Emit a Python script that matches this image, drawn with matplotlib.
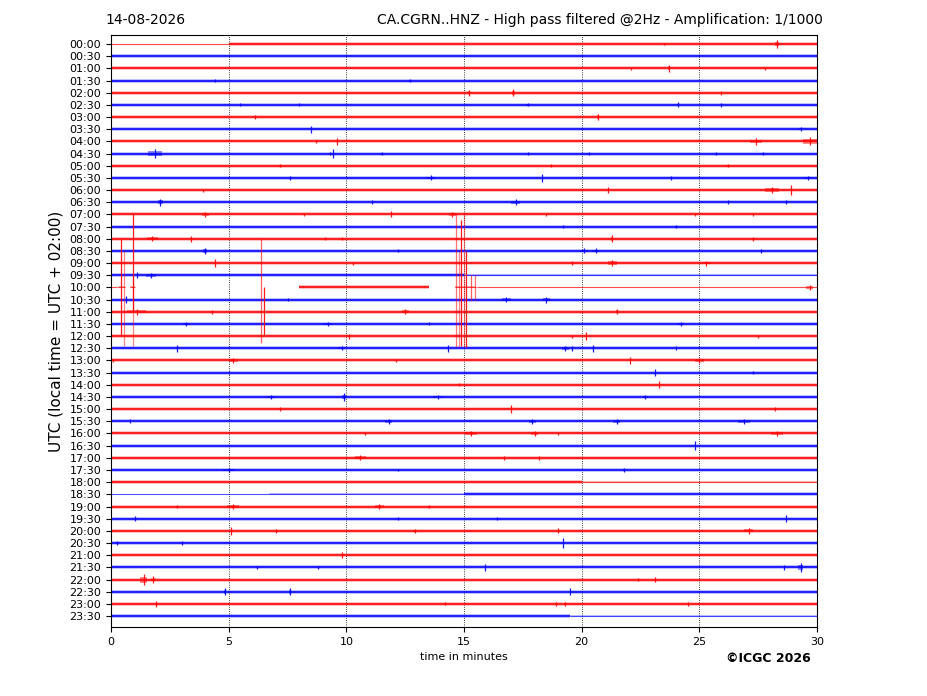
import numpy as np
import matplotlib
matplotlib.use("Agg")
import matplotlib.pyplot as plt

# Helicorder CA.CGRN..HNZ, one trace every 30 minutes
row_labels = [f"{h:02d}:{m:02d}" for h in range(24) for m in (0, 30)]
trace_colors = ["#ff0000", "#0000ff"]   # alternating red / blue traces

# noticeable arrivals: (trace label, minute, half amplitude in trace units, duration in minutes)
events = [
    ("00:00", 23.5, 0.12, 0.0), ("00:00", 28.3, 0.35, 0.2),
    ("01:00", 22.1, 0.12, 0.0), ("01:00", 23.7, 0.3, 0.1), ("01:00", 27.8, 0.12, 0.1),
    ("01:30", 4.4, 0.12, 0.0), ("01:30", 12.7, 0.12, 0.1),
    ("02:00", 15.2, 0.25, 0.1), ("02:00", 17.1, 0.3, 0.1), ("02:00", 25.9, 0.15, 0.0),
    ("02:30", 5.5, 0.12, 0.0), ("02:30", 8.0, 0.12, 0.0), ("02:30", 17.7, 0.12, 0.1),
    ("02:30", 24.1, 0.2, 0.1), ("02:30", 25.9, 0.15, 0.0),
    ("03:00", 6.1, 0.15, 0.0), ("03:00", 20.7, 0.25, 0.1),
    ("03:30", 8.5, 0.3, 0.0), ("03:30", 29.3, 0.15, 0.1),
    ("04:00", 8.7, 0.15, 0.0), ("04:00", 9.6, 0.3, 0.0), ("04:00", 27.4, 0.28, 0.5),
    ("04:00", 29.7, 0.32, 0.6),
    ("04:30", 1.87, 0.35, 0.6), ("04:30", 9.3, 0.15, 0.0), ("04:30", 9.45, 0.35, 0.0),
    ("04:30", 11.5, 0.15, 0.1), ("04:30", 17.7, 0.12, 0.0), ("04:30", 20.3, 0.12, 0.0),
    ("04:30", 25.7, 0.15, 0.1), ("04:30", 27.7, 0.15, 0.1),
    ("05:00", 7.2, 0.12, 0.1), ("05:00", 18.7, 0.12, 0.0), ("05:00", 26.2, 0.12, 0.1),
    ("05:30", 7.6, 0.15, 0.0), ("05:30", 13.6, 0.2, 0.4), ("05:30", 18.3, 0.3, 0.0),
    ("05:30", 23.8, 0.15, 0.0), ("05:30", 29.6, 0.18, 0.3),
    ("06:00", 3.9, 0.12, 0.0), ("06:00", 21.1, 0.25, 0.0), ("06:00", 28.1, 0.25, 0.6),
    ("06:00", 28.9, 0.4, 0.0),
    ("06:30", 2.1, 0.3, 0.2), ("06:30", 11.1, 0.15, 0.0), ("06:30", 17.2, 0.25, 0.4),
    ("06:30", 26.2, 0.15, 0.0), ("06:30", 28.7, 0.15, 0.0),
    ("07:00", 4.0, 0.18, 0.3), ("07:00", 8.2, 0.12, 0.0), ("07:00", 11.9, 0.25, 0.0),
    ("07:00", 14.5, 0.2, 0.3), ("07:00", 18.5, 0.12, 0.0), ("07:00", 24.8, 0.12, 0.0),
    ("07:00", 27.3, 0.15, 0.0),
    ("07:30", 19.2, 0.12, 0.0), ("07:30", 24.0, 0.15, 0.1),
    ("08:00", 1.76, 0.2, 0.5), ("08:00", 3.4, 0.25, 0.0), ("08:00", 9.1, 0.12, 0.0),
    ("08:00", 9.8, 0.12, 0.0), ("08:00", 21.3, 0.3, 0.1), ("08:00", 27.3, 0.15, 0.0),
    ("08:30", 4.0, 0.25, 0.2), ("08:30", 12.2, 0.12, 0.0), ("08:30", 20.1, 0.2, 0.3),
    ("08:30", 20.6, 0.2, 0.3), ("08:30", 27.6, 0.15, 0.0),
    ("09:00", 4.4, 0.3, 0.0), ("09:00", 10.3, 0.12, 0.0), ("09:00", 19.6, 0.15, 0.0),
    ("09:00", 21.3, 0.25, 0.4), ("09:00", 25.3, 0.2, 0.4),
    ("09:30", 1.1, 0.25, 0.0), ("09:30", 1.7, 0.2, 0.4),
    ("10:00", 29.7, 0.2, 0.3),
    ("10:30", 0.65, 0.3, 0.0), ("10:30", 7.5, 0.12, 0.0), ("10:30", 16.8, 0.2, 0.4),
    ("10:30", 18.5, 0.25, 0.3),
    ("11:00", 1.1, 0.25, 0.8), ("11:00", 4.3, 0.15, 0.0), ("11:00", 12.5, 0.2, 0.3),
    ("11:00", 21.5, 0.2, 0.1),
    ("11:30", 3.2, 0.2, 0.3), ("11:30", 9.2, 0.2, 0.4), ("11:30", 13.5, 0.12, 0.0),
    ("11:30", 24.2, 0.2, 0.3),
    ("12:00", 10.1, 0.2, 0.1), ("12:00", 19.6, 0.12, 0.0), ("12:00", 20.2, 0.3, 0.0),
    ("12:00", 27.5, 0.12, 0.0),
    ("12:30", 2.8, 0.3, 0.0), ("12:30", 9.8, 0.18, 0.3), ("12:30", 14.3, 0.3, 0.0),
    ("12:30", 19.3, 0.2, 0.3), ("12:30", 19.6, 0.2, 0.0), ("12:30", 20.5, 0.3, 0.0),
    ("12:30", 24.0, 0.15, 0.0),
    ("13:00", 0.1, 0.15, 0.0), ("13:00", 5.2, 0.2, 0.4), ("13:00", 12.1, 0.15, 0.0),
    ("13:00", 22.05, 0.3, 0.0), ("13:00", 25.0, 0.2, 0.4),
    ("13:30", 5.0, 0.15, 0.0), ("13:30", 23.1, 0.3, 0.0), ("13:30", 27.3, 0.15, 0.0),
    ("14:00", 14.8, 0.12, 0.0), ("14:00", 23.3, 0.3, 0.0),
    ("14:30", 6.8, 0.2, 0.3), ("14:30", 9.9, 0.3, 0.2), ("14:30", 13.9, 0.18, 0.4),
    ("14:30", 22.7, 0.2, 0.2),
    ("15:00", 7.2, 0.15, 0.0), ("15:00", 17.0, 0.3, 0.0), ("15:00", 28.2, 0.18, 0.0),
    ("15:30", 0.8, 0.15, 0.0), ("15:30", 11.8, 0.2, 0.3), ("15:30", 17.9, 0.2, 0.3),
    ("15:30", 21.5, 0.2, 0.3), ("15:30", 26.9, 0.2, 0.5),
    ("16:00", 10.8, 0.12, 0.0), ("16:00", 15.3, 0.2, 0.5), ("16:00", 18.0, 0.2, 0.3),
    ("16:00", 19.0, 0.15, 0.0), ("16:00", 28.3, 0.2, 0.5),
    ("16:30", 24.8, 0.35, 0.0),
    ("17:00", 10.6, 0.2, 0.5), ("17:00", 16.7, 0.15, 0.0), ("17:00", 18.2, 0.15, 0.0),
    ("17:30", 5.0, 0.2, 0.5), ("17:30", 12.2, 0.12, 0.0), ("17:30", 21.8, 0.15, 0.1),
    ("19:00", 2.8, 0.15, 0.0), ("19:00", 5.2, 0.2, 0.5), ("19:00", 11.4, 0.2, 0.4),
    ("19:00", 13.5, 0.15, 0.1),
    ("19:30", 1.0, 0.2, 0.0), ("19:30", 12.2, 0.12, 0.0), ("19:30", 16.4, 0.12, 0.0),
    ("19:30", 28.7, 0.3, 0.0),
    ("20:00", 5.1, 0.3, 0.0), ("20:00", 7.0, 0.15, 0.0), ("20:00", 12.9, 0.15, 0.1),
    ("20:00", 19.0, 0.2, 0.0), ("20:00", 27.1, 0.22, 0.4),
    ("20:30", 0.26, 0.2, 0.0), ("20:30", 3.0, 0.15, 0.0), ("20:30", 19.2, 0.4, 0.0),
    ("21:00", 9.8, 0.25, 0.0),
    ("21:30", 6.2, 0.12, 0.0), ("21:30", 8.8, 0.12, 0.0), ("21:30", 15.9, 0.3, 0.0),
    ("21:30", 28.6, 0.18, 0.0), ("21:30", 29.3, 0.35, 0.2),
    ("22:00", 1.4, 0.45, 0.3), ("22:00", 1.8, 0.25, 0.2), ("22:00", 22.4, 0.15, 0.0),
    ("22:00", 23.1, 0.2, 0.0),
    ("22:30", 4.85, 0.3, 0.1), ("22:30", 7.6, 0.3, 0.1), ("22:30", 19.5, 0.3, 0.0),
    ("23:00", 1.9, 0.25, 0.0), ("23:00", 14.2, 0.12, 0.0), ("23:00", 18.9, 0.15, 0.0),
    ("23:00", 19.3, 0.15, 0.1), ("23:00", 24.5, 0.15, 0.0),
]

# traces that are incomplete or quieter: (start min, end min, noise level)
pieces = {
    "00:00": [(0, 5, 0.3), (5, 30, 1.0)],
    "09:30": [(0, 15, 1.0), (15, 30, 0.6)],
    "10:00": [(0, 0.25, 0.3), (0.3, 0.6, 0.5), (0.8, 1.0, 0.5),
              (8.0, 13.5, 1.0), (14.6, 15.5, 0.5), (15.55, 30, 0.3)],
    "18:00": [(0, 20, 1.0), (20, 30, 0.5)],
    "18:30": [(0, 6.7, 0.25), (6.7, 15, 0.5), (15, 30, 1.0)],
    "23:30": [(0, 19.5, 1.0), (19.5, 30, 0.45)],
}

# large glitches of the 10:00 trace: minute, top and bottom trace reached, strength
glitch_min = [0.42, 0.54, 0.92, 0.92, 6.37, 6.5, 14.67, 14.78, 14.89, 14.99, 15.09, 15.3, 15.45]
glitch_top = [16.0, 17.0, 14.0, 19.0, 16.0, 20.0, 14.0, 17.0, 14.5, 14.0, 17.0, 19.0, 19.0]
glitch_bot = [24.0, 24.8, 22.0, 24.8, 24.6, 24.0, 24.9, 24.9, 24.8, 24.9, 24.9, 21.0, 21.0]
glitch_str = [1.0, 0.4, 1.0, 0.4, 0.6, 1.0, 0.5, 0.4, 1.0, 0.4, 1.0, 0.6, 0.5]

row_of = {lab: i for i, lab in enumerate(row_labels)}

fig = plt.figure(figsize=(9.27, 6.96), dpi=100)
ax = fig.add_axes([111 / 927, 1 - 627 / 696, 706 / 927, 592 / 696])

for i, lab in enumerate(row_labels):
    col = trace_colors[i % 2]
    for start, end, lvl in pieces.get(lab, [(0, 30, 1.0)]):
        ax.plot([start, end], [i, i], color=col, lw=2.6 * lvl, alpha=0.3,
                solid_capstyle="butt")
        ax.plot([start, end], [i, i], color=col, lw=max(0.8, 1.3 * lvl),
                alpha=0.45 + 0.45 * lvl, solid_capstyle="butt")

for lab, t, amp, dur in events:
    i = row_of[lab]
    col = trace_colors[i % 2]
    if dur > 0:
        ax.fill_between([t - dur / 2, t + dur / 2], i - amp * 0.55, i + amp * 0.55,
                        color=col, alpha=0.45, lw=0)
    ax.vlines(t, i - amp, i + amp, color=col, lw=0.9, alpha=0.9)

for t, top, bot, s in zip(glitch_min, glitch_top, glitch_bot, glitch_str):
    ax.vlines(t, top, bot, color="#ff0000", lw=0.9, alpha=0.2 + 0.7 * s)

for x in range(5, 30, 5):
    ax.axvline(x, color="black", ls=":", lw=0.6, zorder=0)

ax.set_xlim(0, 30)
ax.set_ylim(47.9, -0.74)
ax.set_xticks(range(0, 31, 5))
ax.set_yticks(range(len(row_labels)), row_labels)
ax.tick_params(labelsize=8)
ax.set_xlabel("time in minutes", fontsize=8)
ax.set_ylabel("UTC (local time = UTC + 02:00)", fontsize=11)

fig.text(105 / 927, 1 - 20 / 696, "14-08-2026", fontsize=10, va="center", ha="left")
fig.text(823 / 927, 1 - 20 / 696,
         "CA.CGRN..HNZ - High pass filtered @2Hz - Amplification: 1/1000",
         fontsize=10, va="center", ha="right")
fig.text(811 / 927, 1 - 659 / 696, "\u00a9ICGC 2026", fontsize=9, fontweight="bold",
         va="center", ha="right")

fig.savefig("out.png", dpi=100)
